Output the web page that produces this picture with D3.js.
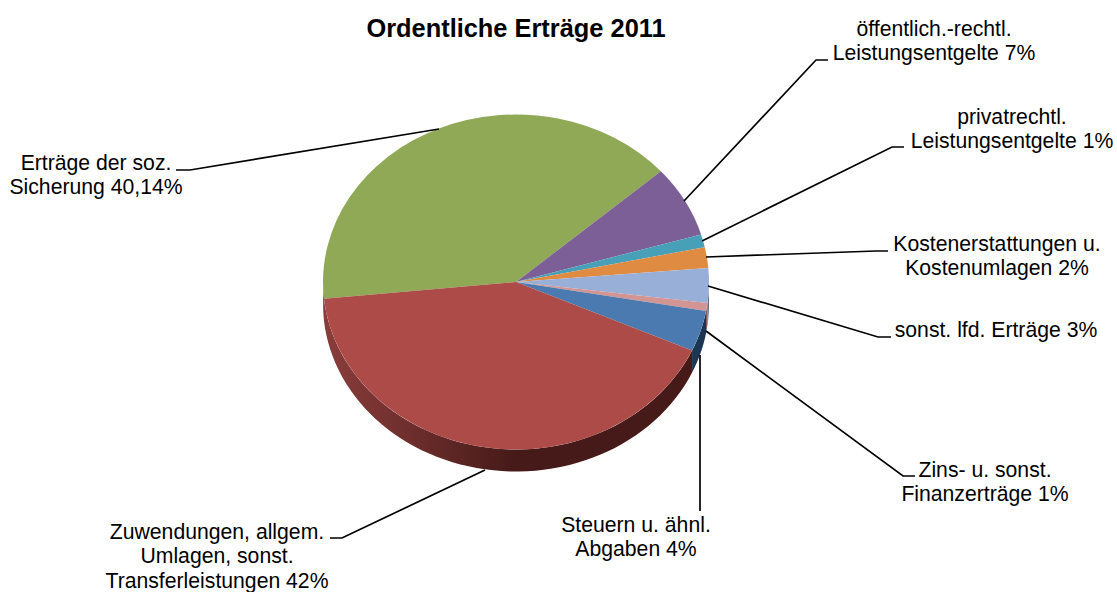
<!DOCTYPE html>
<html>
<head>
<meta charset="utf-8">
<script src="https://d3js.org/d3.v7.min.js"></script>
<style>
  html, body { margin: 0; background: #fff; }
  text { font-family: "Liberation Sans", Arial, sans-serif; fill: #000; }
</style>
</head>
<body>
<div id="chart"></div>
<script>
// Anteile in Prozent, im Uhrzeigersinn ab der Kante rot/gruen
const categories = ['Erträge soz. Sicherung', 'öffentl.-rechtl. Entgelte', 'privatrechtl. Entgelte',
  'Kostenerstattungen', 'sonst. lfd. Erträge', 'Zinserträge', 'Steuern', 'Zuwendungen']
const shares = [40.1, 6.9, 1.25, 2.0, 3.33, 0.78, 3.94, 41.7]
const topColors = ['#8fa956', '#7b5f96', '#48a0b8', '#e08b42', '#98afd8', '#d39594', '#4a7aaf', '#ad4b49']
const sideColors = ['#5f7038', '#4f3d62', '#2a6273', '#8f5726', '#5d6e8c', '#8a5a5a', '#1b3553', '#451a18']

const labelLines = [
  ['Erträge der soz.', 'Sicherung 40,14%'],
  ['öffentlich.-rechtl.', 'Leistungsentgelte 7%'],
  ['privatrechtl.', 'Leistungsentgelte 1%'],
  ['Kostenerstattungen u.', 'Kostenumlagen 2%'],
  ['sonst. lfd. Erträge 3%'],
  ['Zins- u. sonst.', 'Finanzerträge 1%'],
  ['Steuern u. ähnl.', 'Abgaben 4%'],
  ['Zuwendungen, allgem.', 'Umlagen, sonst.', 'Transferleistungen 42%']
]
const labelPos = [[96, 170], [934, 36], [1012, 124], [997, 251], [996, 337], [985, 477], [636, 532], [217, 539]]
const leaders = [
  [[176, 170], [190, 170], [439, 129]],
  [[828, 60], [816, 60], [684, 201]],
  [[904, 147], [892, 147], [702, 241]],
  [[888, 251], [876, 251], [706, 257]],
  [[891, 337], [878, 337], [708, 286]],
  [[915, 476], [903, 476], [706, 331]],
  [[700, 511], [700, 355]],
  [[330, 538], [342, 538], [485, 470]]
]

const width = 1117,
  height = 592,
  cx = 516,
  cy = 282,
  rx = 193,
  ry = 167.5,
  depth = 22

const startAngle = 264.3 * Math.PI / 180

const svg = d3.select('#chart').append('svg')
  .attr('width', width)
  .attr('height', height)
  .style('display', 'block')

const x = d3.scaleLinear().domain([-1, 1]).range([cx - rx, cx + rx])
const y = d3.scaleLinear().domain([-1, 1]).range([cy - ry, cy + ry])

const slices = d3.pie().sort(null)
  .startAngle(startAngle)
  .endAngle(startAngle + 2 * Math.PI)(shares)

// Seitenwand: nur der vordere Teil (90 bis 270 Grad) ist sichtbar
const wall = d3.area()
  .x(a => x(Math.sin(a)))
  .y0(a => y(-Math.cos(a)))
  .y1(a => y(-Math.cos(a)) + depth)

const defs = svg.append('defs')
// Rand wird zur Mitte hin dunkler, nur bei rot deutlich sichtbar
const grad = defs.append('linearGradient')
  .attr('id', 'wall-red')
  .attr('gradientUnits', 'userSpaceOnUse')
  .attr('x1', cx - rx).attr('x2', cx).attr('y1', 0).attr('y2', 0)
grad.append('stop').attr('offset', 0).attr('stop-color', '#8a3d3b')
grad.append('stop').attr('offset', 0.45).attr('stop-color', '#6d2e2c')
grad.append('stop').attr('offset', 1).attr('stop-color', '#451a18')

const walls = svg.append('g').attr('class', 'pie-walls')
slices.forEach((d, i) => {
  // Winkel auf den sichtbaren Bereich begrenzen
  for (const turn of [0, 2 * Math.PI]) {
    const a0 = Math.max(d.startAngle, Math.PI / 2 + turn)
    const a1 = Math.min(d.endAngle, 3 * Math.PI / 2 + turn)
    if (a1 <= a0) continue
    const steps = d3.range(0, 61).map(k => a0 + (a1 - a0) * k / 60)
    walls.append('path')
      .attr('d', wall(steps))
      .attr('fill', i == 7 ? 'url(#wall-red)' : sideColors[i])
  }
})

const arc = d3.arc().innerRadius(0).outerRadius(rx)
svg.append('g')
  .attr('class', 'pie-top')
  .attr('transform', `translate(${cx}, ${cy}) scale(1, ${ry / rx})`)
  .selectAll('path')
  .data(slices)
  .enter().append('path')
  .attr('d', arc)
  .attr('fill', (d, i) => topColors[i])

const line = d3.line()
svg.append('g')
  .attr('class', 'leaders')
  .selectAll('path')
  .data(leaders)
  .enter().append('path')
  .attr('d', d => line(d))
  .attr('fill', 'none')
  .attr('stroke', '#000')
  .attr('stroke-width', 1.7)

svg.append('text')
  .text('Ordentliche Erträge 2011')
  .attr('x', 516)
  .attr('y', 37)
  .style('text-anchor', 'middle')
  .style('font-size', '25.4px')
  .style('font-weight', 'bold')

const labels = svg.append('g').attr('class', 'labels')
labelLines.forEach((lines, i) => {
  lines.forEach((t, j) => {
    labels.append('text')
      .text(t)
      .attr('x', labelPos[i][0])
      .attr('y', labelPos[i][1] + j * 24.3)
      .style('text-anchor', 'middle')
      .style('font-size', '21.2px')
  })
})
</script>
</body>
</html>
